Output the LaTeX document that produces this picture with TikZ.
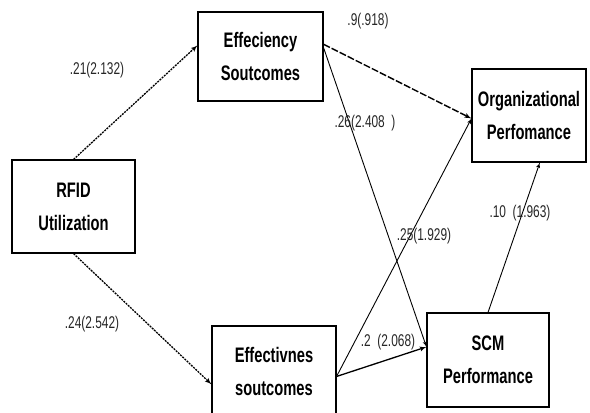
\documentclass[tikz,border=0pt]{standalone}
\usepackage{fontspec}
\usetikzlibrary{arrows}
\newfontfamily\boxfont[FakeStretch=0.7]{Liberation Sans}
\tikzstyle{block} = [rectangle, draw, line width=1.1pt, fill=white, align=center, inner sep=0pt, font=\boxfont\bfseries\fontsize{21}{33}\selectfont]
\tikzstyle{line} = [draw, -latex', line width=0.9pt]
\tikzstyle{coef} = [font=\boxfont\fontsize{17}{20}\selectfont, text=black!85, inner sep=0pt]

\begin{document}
\begin{tikzpicture}[x=1pt, y=-1pt]
            \useasboundingbox (0,0) rectangle (590,413);
            % Nodes
            \node [block, minimum width=125pt, minimum height=89pt] (eff) at (260.5,56.5) {Effeciency\\Soutcomes};
            \node [block, minimum width=123pt, minimum height=93pt] (rfid) at (73.5,206.5) {RFID\\Utilization};
            \node [block, minimum width=114pt, minimum height=93pt] (org) at (529,115.5) {Organizational\\Perfomance};
            \node [block, minimum width=124pt, minimum height=90pt] (effv) at (274,371) {Effectivnes\\soutcomes};
            \node [block, minimum width=122pt, minimum height=94pt] (scm) at (488,360) {SCM\\Performance};

            % Lines
            \path [line, dash pattern=on 2pt off 1pt, line width=1.3pt] (rfid.north) -- (eff.170);
            \path [line, dash pattern=on 2pt off 1pt, line width=1.3pt] (rfid.south) -- (effv.192);
            \path [line, dash pattern=on 7pt off 2pt, line width=1.4pt] (eff.11) -- (org.183);
            \path [line] (eff.8) -- (scm.168);
            \path [line] (effv.355) -- (org.183);
            \path [line, line width=1.3pt] (effv.355) -- (scm.168);
            \path [line] (scm.north) -- (org.283);

            % Coefficients
            \node [coef] (c1) at (97,70) {.21(2.132)};
            \node [coef] (c2) at (92,324) {.24(2.542)};
            \node [coef] (c3) at (368,21) {.9(.918)};
            \node [coef] (c4) at (365,123) {.26(2.408\ \ )};
            \node [coef] (c5) at (424,236) {.25(1.929)};
            \node [coef] (c6) at (388,342) {.2\ \ (2.068)};
            \node [coef] (c7) at (520,213) {.10\ \ (1.963)};
        \end{tikzpicture}
\end{document}
